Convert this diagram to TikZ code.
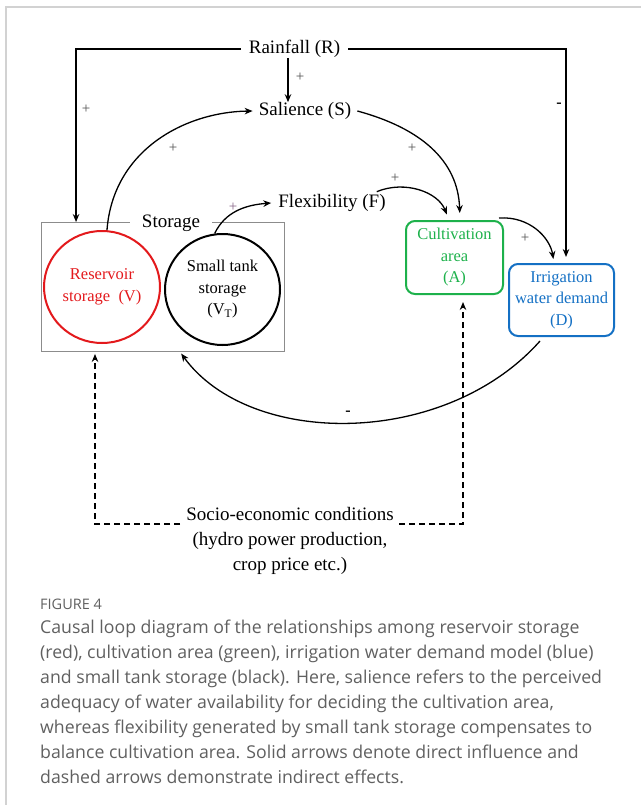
\documentclass[tikz,border=0pt]{standalone}
\usepackage{fontspec}
\setmainfont{Liberation Serif}
\newfontfamily\capfont{Open Sans}
\usetikzlibrary{arrows.meta,shapes.geometric,calc}
\definecolor{resred}{HTML}{E3191C}
\definecolor{cultgreen}{HTML}{1DB14B}
\definecolor{irrblue}{HTML}{1470C4}
\definecolor{capgray}{HTML}{606060}
\definecolor{framegray}{HTML}{D2D2D2}
\definecolor{signgray}{HTML}{505050}
\begin{document}
\begin{tikzpicture}[x=1pt,y=-1pt,
  arr/.style={-{Stealth[length=8pt,width=6.5pt]}, line width=1.3pt},
  darr/.style={-{Stealth[length=8pt,width=6.5pt]}, line width=1.3pt, dash pattern=on 6pt off 4pt},
  lbl/.style={font=\fontsize{19}{23}\selectfont, inner ysep=0pt},
  boxtxt/.style={font=\fontsize{16.5}{21.5}\selectfont, align=center},
  sign/.style={font=\fontsize{15}{15}\selectfont, text=signgray, inner sep=0pt},
  minus/.style={font=\bfseries\fontsize{16}{16}\selectfont, inner sep=0pt},
  capline/.style={anchor=base west, inner sep=0pt, text=capgray, font=\capfont\fontsize{17.7}{20}\selectfont}
]
\useasboundingbox (0,0) rectangle (641,805);
% outer frame
\draw[framegray, line width=1.6pt] (6,805) -- (6,7) -- (641,7);

% nodes
\node[lbl, inner xsep=8pt] (R) at (294.5,49) {Rainfall (R)};
\node[lbl, inner xsep=6pt] (S) at (305,111) {Salience (S)};
\node[lbl, inner xsep=7pt] (F) at (332,203) {Flexibility (F)};

\node[draw=black!45, line width=0.9pt, minimum width=243pt, minimum height=129pt, inner sep=0pt] (stor) at (163,287) {};
\node[lbl, fill=white, inner xsep=12pt, inner ysep=1pt] (stl) at (171,223) {Storage};

\node[ellipse, draw=resred, line width=2pt, minimum width=116pt, minimum height=112pt, inner sep=0pt, boxtxt, text=resred] (V) at (102,287) {Reservoir\\storage~~(V)};
\node[ellipse, draw=black, line width=2pt, minimum width=115pt, minimum height=111pt, inner sep=0pt, boxtxt] (T) at (222.5,289.5) {Small tank\\storage\\(V\textsubscript{T})};

\node[rectangle, rounded corners=9pt, draw=cultgreen, line width=2pt, minimum width=97pt, minimum height=73pt, inner sep=0pt, boxtxt, text=cultgreen] (A) at (454.5,257.5) {Cultivation\\area\\(A)};
\node[rectangle, rounded corners=9pt, draw=irrblue, line width=2pt, minimum width=105pt, minimum height=72pt, inner sep=0pt, boxtxt, text=irrblue] (D) at (561.5,300) {Irrigation\\water demand\\(D)};

\node[lbl, align=center, font=\fontsize{19}{25}\selectfont] (soc) at (290,541) {Socio-economic conditions\\(hydro power production,\\crop price etc.)};
\coordinate (sl) at (180,524);
\coordinate (sr) at (399,524);

% solid connectors
\draw[arr] (R.west) -| ($(stor.north west)+(35,0)$);
\draw[arr, shorten >=6pt] (R.east) -| ([xshift=4.5pt]D.north);
\draw[arr] ([xshift=-6.5pt]R.south) -- ([xshift=-17pt]S.north);
\draw[arr] (V.85) .. controls (113,150) and (185,112) .. (S.west);
\draw[arr, shorten >=7pt] (S.east) .. controls (420,128) and (458,160) .. ([xshift=5.5pt]A.north);
\draw[arr] (T.98) .. controls (225,212) and (245,205) .. (F.west);
\draw[arr, shorten >=6pt] ([xshift=-16pt,yshift=2.5pt]F.north east) .. controls (405,180) and (438,192) .. ([xshift=-5.5pt]A.north);
\draw[arr, shorten >=4pt] ([xshift=-5pt,yshift=2pt]A.north east) .. controls (530,216) and (550,238) .. ([xshift=-7.5pt]D.north);
\draw[arr, shorten >=2pt] ([xshift=-21.5pt,yshift=-4pt]D.south) .. controls (445,448) and (250,448) .. ([xshift=17pt]stor.south);

% dashed connectors
\draw[darr, shorten >=2pt] (sl) -| ([xshift=-68pt]stor.south);
\draw[darr, shorten >=7pt] (sr) -| ([xshift=8.5pt]A.south);

% signs
\node[sign] at (86,109) {+};
\node[sign] at (300,77) {+};
\node[sign] at (173,148) {+};
\node[sign] at (412,148) {+};
\node[sign] at (395,178) {+};
\node[sign, text=black!55!violet!60] at (233,207) {+};
\node[sign] at (525,238) {+};
\node[minus] at (559,105) {-};
\node[minus] at (348,413) {-};

% caption
\node[capline, font=\capfont\fontsize{14.5}{18}\selectfont] (fig) at (40,609) {FIGURE 4};
\node[capline] (c1) at (40,633) {Causal loop diagram of the relationships among reservoir storage};
\node[capline] (c2) at (40,658) {(red), cultivation area (green), irrigation water demand model (blue)};
\node[capline] (c3) at (40,683) {and small tank storage (black). Here, salience refers to the perceived};
\node[capline] (c4) at (40,708) {adequacy of water availability for deciding the cultivation area,};
\node[capline] (c5) at (40,733) {whereas flexibility generated by small tank storage compensates to};
\node[capline] (c6) at (40,758) {balance cultivation area. Solid arrows denote direct influence and};
\node[capline] (c7) at (40,783) {dashed arrows demonstrate indirect effects.};
\end{tikzpicture}
\end{document}
